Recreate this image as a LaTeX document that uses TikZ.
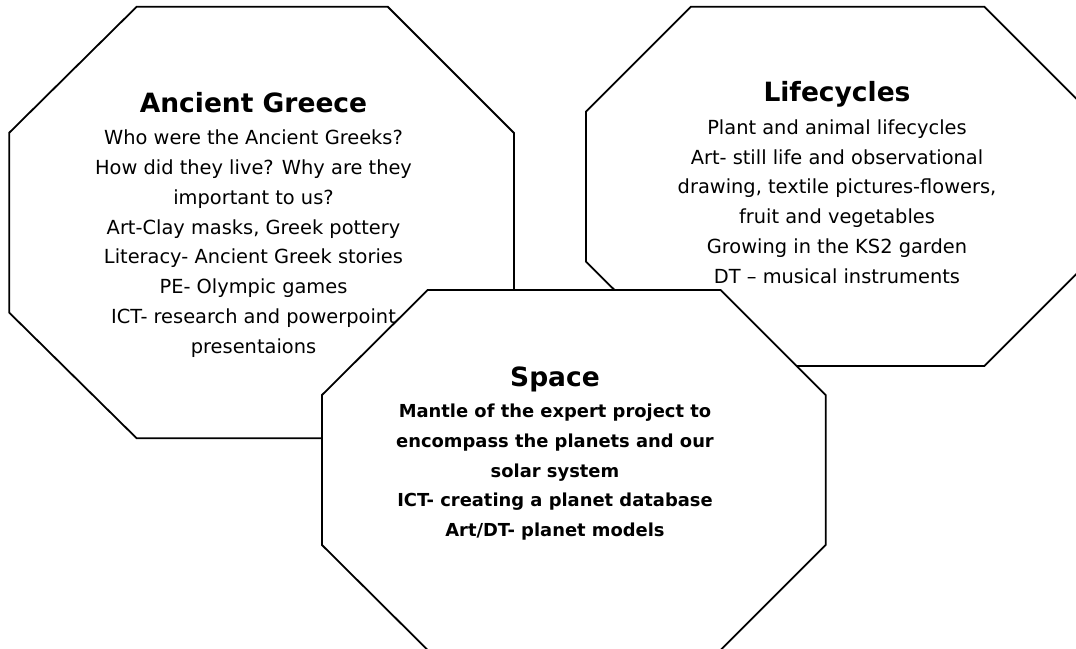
\documentclass[tikz,border=0pt]{standalone}
\usepackage{fontspec}
\setmainfont{DejaVu Sans}
\tikzset{
  octa/.style={draw=black, line width=1.8pt, fill=white, line join=miter},
  octtext/.style={align=center, inner sep=0pt, anchor=base, font=\fontsize{19.4}{29.75}\selectfont},
  boldtext/.style={octtext, font=\fontsize{17.9}{29.75}\selectfont\bfseries},
}
\newcommand{\ttl}[1]{{\fontsize{26.5}{29.75}\selectfont\bfseries #1}}
\begin{document}
\begin{tikzpicture}[x=1pt,y=-1pt]
  \clip (0,0) rectangle (1076,648);
  \fill[white] (0,0) rectangle (1076,648);
  % Ancient Greece
  \draw[octa] (136.7,6.7) -- (387.7,6.7) -- (514,133) -- (514,312.7) -- (387.7,438.3)
    -- (136.7,438.3) -- (9.3,312.7) -- (9.3,132.7) -- cycle;
  \node[octtext] (greece) at (253.5,353) {\ttl{Ancient Greece}\\[2.3pt]
    Who were the Ancient Greeks?\\
    How did they live? Why are they\\
    important to us?\\
    Art-Clay masks, Greek pottery\\
    Literacy- Ancient Greek stories\\
    PE- Olympic games\\
    ICT- research and powerpoint\\
    presentaions};
  % Lifecycles
  \draw[octa] (691,6.7) -- (984.3,6.7) -- (1089.3,111.7) -- (1089.3,261) -- (984.3,366)
    -- (691,366) -- (586,261.7) -- (586,111.7) -- cycle;
  \node[octtext] (life) at (837,283) {\ttl{Lifecycles}\\[3pt]
    Plant and animal lifecycles\\
    Art- still life and observational\\
    drawing, textile pictures-flowers,\\
    fruit and vegetables\\
    Growing in the KS2 garden\\
    DT – musical instruments};
  % Space
  \draw[octa] (427.7,290) -- (720.7,290) -- (825.7,395) -- (825.7,545) -- (720.7,650)
    -- (427.7,650) -- (322,545) -- (322,395) -- cycle;
  \node[boldtext] (space) at (555,536.7) {\ttl{Space}\\[1.7pt]
    Mantle of the expert project to\\
    encompass the planets and our\\
    solar system\\
    ICT- creating a planet database\\
    Art/DT- planet models};
\end{tikzpicture}
\end{document}
